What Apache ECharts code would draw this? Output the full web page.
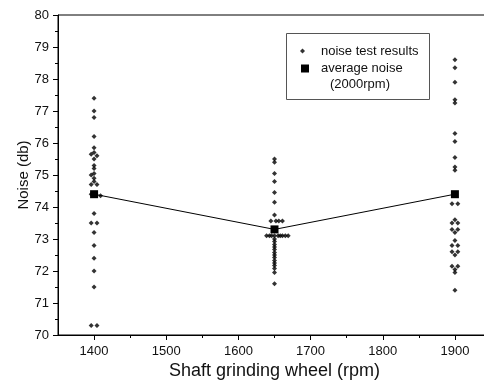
<!DOCTYPE html>
<html>
<head>
<meta charset="utf-8">
<script src="https://cdn.jsdelivr.net/npm/echarts@6/dist/echarts.min.js"></script>
<style>html,body{margin:0;padding:0;background:#fff}#c{width:484px;height:383px}</style>
</head>
<body>
<div id="c"></div>
<script>
// rpm tick labels
const rpmTicks = [1400, 1500, 1600, 1700, 1800, 1900];
const rpmMinorTicks = [1450, 1550, 1650, 1750, 1850];
// average noise (2000rpm) per shaft grinding wheel speed
const avgRpm = [1400, 1650, 1900];
const avgNoise = [74.4, 73.3, 74.4];
// noise test results: [rpm, noise]
const noise1400 = [
  [1400,77.4],[1400,77.0],[1400,76.8],[1400,76.2],[1400,75.85],[1396,75.65],[1400,75.7],[1404,75.6],
  [1400,75.5],[1400,75.3],[1400,75.2],[1400,75.05],[1396,75.0],[1400,74.9],[1400,74.8],[1396,74.7],
  [1404,74.7],[1396,74.4],[1409,74.35],[1400,73.8],[1396,73.5],[1404,73.5],[1400,73.2],[1400,72.8],
  [1400,72.4],[1400,72.0],[1400,71.5],[1396,70.3],[1404,70.3]
];
const noise1650 = [
  [1650,75.5],[1650,75.4],[1650,75.05],[1650,74.8],[1650,74.45],[1650,74.15],[1650,73.75],
  [1645,73.56],[1652,73.56],[1656,73.56],[1661,73.56],
  [1639,73.1],[1643,73.1],[1646,73.1],[1650,73.1],[1655,73.1],[1658,73.1],[1661,73.1],[1665,73.1],[1669,73.1],
  [1650,73.0],[1650,72.92],[1650,72.83],[1650,72.75],[1650,72.67],[1650,72.58],[1650,72.5],[1650,72.42],
  [1650,72.33],[1650,72.25],[1650,72.17],[1650,72.08],[1650,71.95],[1650,71.6]
];
const noise1900 = [
  [1900,78.6],[1900,78.35],[1900,77.9],[1900,77.35],[1900,77.25],[1900,76.3],[1900,76.05],[1900,75.55],
  [1900,75.25],[1900,75.15],[1896,74.1],[1904,74.1],
  [1900,73.6],[1896,73.5],[1904,73.5],[1896,73.3],[1904,73.3],[1900,73.2],
  [1900,72.95],[1896,72.8],[1904,72.8],[1896,72.6],[1904,72.6],[1900,72.5],
  [1896,72.15],[1904,72.15],[1900,72.05],[1900,71.95],[1900,71.4]
];

const FONT = 'Liberation Sans, Arial, sans-serif';
const chart = echarts.init(document.getElementById('c'), null, {renderer: 'canvas'});
chart.setOption({
  animation: false,
  backgroundColor: '#fff',
  textStyle: {fontFamily: FONT},
  grid: {left: 58, top: 15, width: 433, height: 320, show: true, borderColor: '#000', borderWidth: 1,
    containLabel: false, outerBoundsMode: 'none'},
  xAxis: [{
    type: 'value', min: 1350, max: 1950,
    name: 'Shaft grinding wheel (rpm)', nameLocation: 'middle', nameGap: 27, nameMoveOverlap: false,
    nameTextStyle: {fontSize: 18, color: '#111', fontFamily: FONT},
    axisLine: {lineStyle: {color: '#000', width: 1}},
    axisTick: {show: true, length: 5, inside: false, customValues: rpmTicks, lineStyle: {color: '#000'}},
    axisLabel: {customValues: rpmTicks, fontSize: 13, color: '#111', margin: 10, fontFamily: FONT,
      formatter: v => String(v)},
    splitLine: {show: false}
  }, {
    type: 'value', min: 1350, max: 1950, position: 'bottom',
    axisLine: {show: false},
    axisTick: {show: true, length: 3, customValues: rpmMinorTicks, lineStyle: {color: '#000'}},
    axisLabel: {show: false},
    splitLine: {show: false}
  }],
  yAxis: {
    type: 'value', min: 70, max: 80, interval: 1,
    name: 'Noise (db)', nameLocation: 'middle', nameGap: 27, nameMoveOverlap: false,
    nameTextStyle: {fontSize: 15, color: '#111', fontFamily: FONT},
    axisLine: {show: true, lineStyle: {color: '#000', width: 1}},
    axisTick: {show: true, length: 5, lineStyle: {color: '#000'}},
    minorTick: {show: true, splitNumber: 2, length: 3, lineStyle: {color: '#000'}},
    axisLabel: {fontSize: 13, color: '#111', margin: 9, fontFamily: FONT},
    splitLine: {show: false}
  },
  legend: [{
    data: [{name: 'noise test results', icon: 'diamond'}],
    left: 300, top: 44.5, orient: 'vertical',
    itemWidth: 5, itemHeight: 5, padding: 0,
    textStyle: {fontSize: 13, color: '#111', fontFamily: FONT, padding: [0, 0, 0, 11]}
  }, {
    data: [{name: 'average noise', icon: 'rect'}],
    left: 301, top: 62, orient: 'vertical',
    itemWidth: 8, itemHeight: 8, padding: 0,
    textStyle: {fontSize: 13, color: '#111', fontFamily: FONT, padding: [0, 0, 0, 7]}
  }],
  graphic: [{
    type: 'rect', left: 286, top: 33, z: 0,
    shape: {width: 143, height: 66},
    style: {fill: '#fff', stroke: '#555', lineWidth: 1}
  }, {
    type: 'text', left: 330, top: 78, z: 5,
    style: {text: '(2000rpm)', fontSize: 13, fill: '#111', fontFamily: FONT}
  }],
  series: [{
    name: 'noise test results', type: 'scatter',
    symbol: 'diamond', symbolSize: 5,
    itemStyle: {color: '#000'},
    data: noise1400.concat(noise1650, noise1900),
    z: 2
  }, {
    name: 'average noise', type: 'line',
    symbol: 'rect', symbolSize: 8, showAllSymbol: true,
    lineStyle: {color: '#000', width: 1},
    itemStyle: {color: '#000'},
    data: avgRpm.map((r, i) => [r, avgNoise[i]]),
    z: 3
  }]
});
</script>
</body>
</html>
